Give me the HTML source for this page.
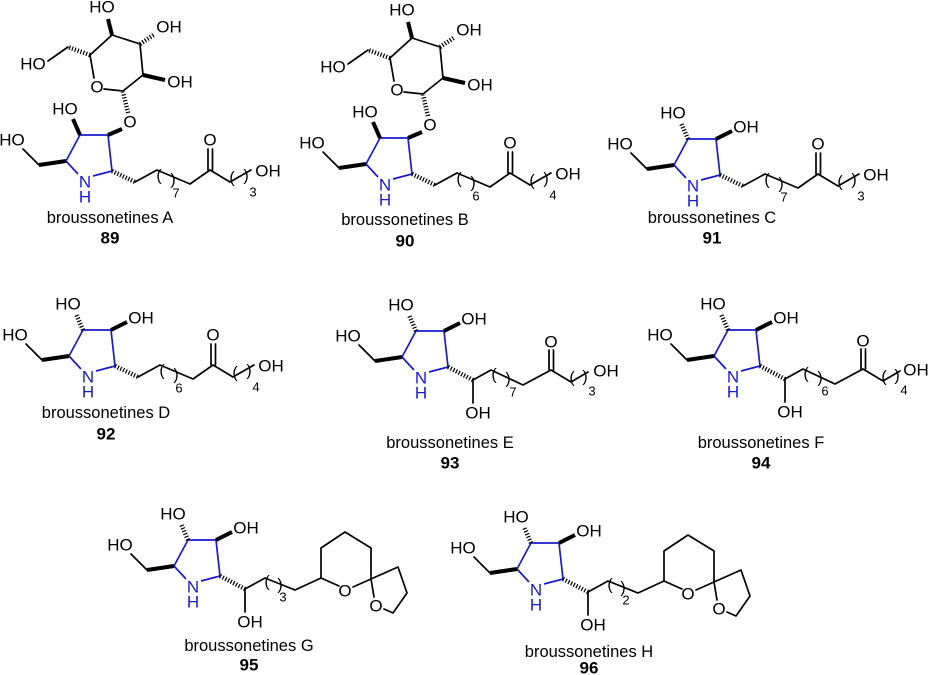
<!DOCTYPE html>
<html><head><meta charset="utf-8"><style>
html,body{margin:0;padding:0;background:#fff}
svg{display:block}
text{font-family:"Liberation Sans",Arial,sans-serif;dominant-baseline:central;text-anchor:middle}
.a{font-size:17px;fill:#000}
.b{font-size:17px;fill:#1a1acd}
.n{font-size:13px}
.p{font-size:16px}
.lbl{font-size:16.5px}
.num{font-size:17px;font-weight:bold}
.k{stroke:#000;stroke-width:1.7;fill:none;stroke-linecap:round;stroke-linejoin:round}
.bl{stroke:#1a1acd;stroke-width:1.7;fill:none;stroke-linejoin:round}
.w{stroke:#000;stroke-width:4;fill:none}
.h{stroke:#000;stroke-width:4.5;fill:none;stroke-dasharray:1.2 1.8}
</style></head><body>
<svg width="929" height="675" viewBox="0 0 929 675" xmlns="http://www.w3.org/2000/svg">

<!-- 89 -->
<g transform="translate(85,182)">
<path class="bl" d="M-7,-8 L-19,-21 L-5,-47 L23,-47 L27,-11 L8,-6"/>
<text class="b" x="0" y="0">N</text><text class="b" x="0" y="15">H</text>
<line class="w" x1="-19" y1="-21" x2="-46" y2="-17"/><path class="k" d="M-46,-17 L-62,-33"/><text class="a" x="-73" y="-42">HO</text>
<line class="w" x1="-5" y1="-47" x2="-12" y2="-63"/><text class="a" x="-20" y="-73">HO</text>
<line class="w" x1="23" y1="-47" x2="37" y2="-53"/><text class="a" x="45" y="-60">O</text>
<line class="h" x1="43" y1="-69" x2="38" y2="-90"/>
<path class="k" d="M19,-93 L38,-91 L58,-107 L55,-138 L27,-147 L5,-127 L9,-104"/><text class="a" x="12" y="-95">O</text>
<line class="w" x1="58" y1="-107" x2="80" y2="-102"/><text class="a" x="95" y="-100">OH</text>
<line class="h" x1="55" y1="-138" x2="70" y2="-148"/><text class="a" x="84" y="-155">OH</text>
<line class="w" x1="27" y1="-147" x2="23" y2="-163"/><text class="a" x="17" y="-175">HO</text>
<line class="h" x1="5" y1="-127" x2="-17" y2="-135"/><path class="k" d="M-17,-135 L-37,-121"/><text class="a" x="-52" y="-118">HO</text>
<line class="h" x1="27" y1="-11" x2="50" y2="0"/>
<path class="k" d="M50,0 L72,-12 L105,2 L125,-12 L145,0 L166,-12"/>
<path class="k" d="M123,-12 L123,-33 M127.5,-12 L127.5,-33"/><text class="a" x="125" y="-42">O</text>
<text class="p" x="74" y="-6">(</text><text class="p" x="88" y="-2">)</text><text class="n" x="91" y="11">7</text>
<text class="p" x="147" y="-4">(</text><text class="p" x="161" y="-6">)</text><text class="n" x="168" y="10">3</text>
<text class="a" x="183" y="-11">OH</text>
</g>
<text class="lbl" x="110" y="218">broussonetines A</text><text class="num" x="110" y="238">89</text>

<!-- 90 -->
<g transform="translate(385,185)">
<path class="bl" d="M-7,-8 L-19,-21 L-5,-47 L23,-47 L27,-11 L8,-6"/>
<text class="b" x="0" y="0">N</text><text class="b" x="0" y="15">H</text>
<line class="w" x1="-19" y1="-21" x2="-46" y2="-17"/><path class="k" d="M-46,-17 L-62,-33"/><text class="a" x="-73" y="-42">HO</text>
<line class="w" x1="-5" y1="-47" x2="-12" y2="-63"/><text class="a" x="-20" y="-73">HO</text>
<line class="w" x1="23" y1="-47" x2="37" y2="-53"/><text class="a" x="45" y="-60">O</text>
<line class="h" x1="43" y1="-69" x2="38" y2="-90"/>
<path class="k" d="M19,-93 L38,-91 L58,-107 L55,-138 L27,-147 L5,-127 L9,-104"/><text class="a" x="12" y="-95">O</text>
<line class="w" x1="58" y1="-107" x2="80" y2="-102"/><text class="a" x="95" y="-100">OH</text>
<line class="h" x1="55" y1="-138" x2="70" y2="-148"/><text class="a" x="84" y="-155">OH</text>
<line class="w" x1="27" y1="-147" x2="23" y2="-163"/><text class="a" x="17" y="-175">HO</text>
<line class="h" x1="5" y1="-127" x2="-17" y2="-135"/><path class="k" d="M-17,-135 L-37,-121"/><text class="a" x="-52" y="-118">HO</text>
<line class="h" x1="27" y1="-11" x2="50" y2="0"/>
<path class="k" d="M50,0 L72,-12 L105,2 L125,-12 L145,0 L166,-12"/>
<path class="k" d="M123,-12 L123,-33 M127.5,-12 L127.5,-33"/><text class="a" x="125" y="-42">O</text>
<text class="p" x="74" y="-6">(</text><text class="p" x="88" y="-2">)</text><text class="n" x="91" y="11">6</text>
<text class="p" x="147" y="-4">(</text><text class="p" x="161" y="-6">)</text><text class="n" x="168" y="10">4</text>
<text class="a" x="183" y="-11">OH</text>
</g>
<text class="lbl" x="405" y="220">broussonetines B</text><text class="num" x="405" y="241">90</text>

<!-- 91 -->
<g transform="translate(693,186)">
<path class="bl" d="M-7,-8 L-19,-21 L-5,-47 L23,-47 L27,-11 L8,-6"/>
<text class="b" x="0" y="0">N</text><text class="b" x="0" y="15">H</text>
<line class="w" x1="-19" y1="-21" x2="-46" y2="-17"/><path class="k" d="M-46,-17 L-62,-33"/><text class="a" x="-73" y="-42">HO</text>
<line class="h" x1="-5" y1="-47" x2="-12" y2="-63"/><text class="a" x="-20" y="-73">HO</text>
<line class="w" x1="23" y1="-47" x2="39" y2="-55"/><text class="a" x="53" y="-59">OH</text>
<line class="h" x1="27" y1="-11" x2="50" y2="0"/>
<path class="k" d="M50,0 L72,-12 L105,2 L125,-12 L145,0 L166,-12"/>
<path class="k" d="M123,-12 L123,-33 M127.5,-12 L127.5,-33"/><text class="a" x="125" y="-42">O</text>
<text class="p" x="74" y="-6">(</text><text class="p" x="88" y="-2">)</text><text class="n" x="91" y="11">7</text>
<text class="p" x="147" y="-4">(</text><text class="p" x="161" y="-6">)</text><text class="n" x="168" y="10">3</text>
<text class="a" x="183" y="-11">OH</text>
</g>
<text class="lbl" x="712" y="218">broussonetines C</text><text class="num" x="712" y="238">91</text>

<!-- 92 -->
<g transform="translate(88,377)">
<path class="bl" d="M-7,-8 L-19,-21 L-5,-47 L23,-47 L27,-11 L8,-6"/>
<text class="b" x="0" y="0">N</text><text class="b" x="0" y="15">H</text>
<line class="w" x1="-19" y1="-21" x2="-46" y2="-17"/><path class="k" d="M-46,-17 L-62,-33"/><text class="a" x="-73" y="-42">HO</text>
<line class="h" x1="-5" y1="-47" x2="-12" y2="-63"/><text class="a" x="-20" y="-73">HO</text>
<line class="w" x1="23" y1="-47" x2="39" y2="-55"/><text class="a" x="53" y="-59">OH</text>
<line class="h" x1="27" y1="-11" x2="50" y2="0"/>
<path class="k" d="M50,0 L72,-12 L105,2 L125,-12 L145,0 L166,-12"/>
<path class="k" d="M123,-12 L123,-33 M127.5,-12 L127.5,-33"/><text class="a" x="125" y="-42">O</text>
<text class="p" x="74" y="-6">(</text><text class="p" x="88" y="-2">)</text><text class="n" x="91" y="11">6</text>
<text class="p" x="147" y="-4">(</text><text class="p" x="161" y="-6">)</text><text class="n" x="168" y="10">4</text>
<text class="a" x="183" y="-11">OH</text>
</g>
<text class="lbl" x="106" y="413">broussonetines D</text><text class="num" x="106" y="434">92</text>

<!-- 93 -->
<g transform="translate(421,378)">
<path class="bl" d="M-7,-8 L-19,-21 L-5,-47 L23,-47 L27,-11 L8,-6"/>
<text class="b" x="0" y="0">N</text><text class="b" x="0" y="15">H</text>
<line class="w" x1="-19" y1="-21" x2="-46" y2="-17"/><path class="k" d="M-46,-17 L-62,-33"/><text class="a" x="-73" y="-42">HO</text>
<line class="h" x1="-5" y1="-47" x2="-12" y2="-63"/><text class="a" x="-20" y="-73">HO</text>
<line class="w" x1="23" y1="-47" x2="39" y2="-55"/><text class="a" x="53" y="-59">OH</text>
<line class="h" x1="27" y1="-11" x2="52" y2="2"/>
<path class="k" d="M52,2 L52,25"/><text class="a" x="57" y="35">OH</text>
<path class="k" d="M52,2 L70,-8 L102,7 L130,-8 L150,4 L167,-6"/>
<path class="k" d="M128,-8 L128,-28 M132.5,-8 L132.5,-28"/><text class="a" x="130" y="-36">O</text>
<text class="p" x="73" y="-3">(</text><text class="p" x="87" y="1">)</text><text class="n" x="92" y="14">7</text>
<text class="p" x="151" y="0">(</text><text class="p" x="164" y="-1">)</text><text class="n" x="171" y="13">3</text>
<text class="a" x="185" y="-7">OH</text>
</g>
<text class="lbl" x="450" y="443">broussonetines E</text><text class="num" x="450" y="463">93</text>

<!-- 94 -->
<g transform="translate(733,377)">
<path class="bl" d="M-7,-8 L-19,-21 L-5,-47 L23,-47 L27,-11 L8,-6"/>
<text class="b" x="0" y="0">N</text><text class="b" x="0" y="15">H</text>
<line class="w" x1="-19" y1="-21" x2="-46" y2="-17"/><path class="k" d="M-46,-17 L-62,-33"/><text class="a" x="-73" y="-42">HO</text>
<line class="h" x1="-5" y1="-47" x2="-12" y2="-63"/><text class="a" x="-20" y="-73">HO</text>
<line class="w" x1="23" y1="-47" x2="39" y2="-55"/><text class="a" x="53" y="-59">OH</text>
<line class="h" x1="27" y1="-11" x2="52" y2="2"/>
<path class="k" d="M52,2 L52,25"/><text class="a" x="57" y="35">OH</text>
<path class="k" d="M52,2 L70,-8 L102,7 L130,-8 L150,4 L167,-6"/>
<path class="k" d="M128,-8 L128,-28 M132.5,-8 L132.5,-28"/><text class="a" x="130" y="-36">O</text>
<text class="p" x="73" y="-3">(</text><text class="p" x="87" y="1">)</text><text class="n" x="92" y="14">6</text>
<text class="p" x="151" y="0">(</text><text class="p" x="164" y="-1">)</text><text class="n" x="171" y="13">4</text>
<text class="a" x="183" y="-7">OH</text>
</g>
<text class="lbl" x="761" y="443">broussonetines F</text><text class="num" x="761" y="463">94</text>

<!-- 95 -->
<g transform="translate(193,587)">
<path class="bl" d="M-7,-8 L-19,-21 L-5,-47 L23,-47 L27,-11 L8,-6"/>
<text class="b" x="0" y="0">N</text><text class="b" x="0" y="15">H</text>
<line class="w" x1="-19" y1="-21" x2="-46" y2="-17"/><path class="k" d="M-46,-17 L-62,-33"/><text class="a" x="-73" y="-42">HO</text>
<line class="h" x1="-5" y1="-47" x2="-12" y2="-63"/><text class="a" x="-20" y="-73">HO</text>
<line class="w" x1="23" y1="-47" x2="39" y2="-55"/><text class="a" x="53" y="-59">OH</text>
<line class="h" x1="27" y1="-11" x2="52" y2="2"/>
<path class="k" d="M52,2 L52,25"/><text class="a" x="57" y="35">OH</text>
<path class="k" d="M52,2 L72,-9 L102,3 L128,-9 L146,-1"/>
<text class="p" x="74" y="-5">(</text><text class="p" x="87" y="-2">)</text><text class="n" x="90" y="10">3</text>
<path class="k" d="M128,-9 L128,-39 L152,-55 L178,-39 L178,-8 L160,0"/><text class="a" x="152" y="4">O</text>
<path class="k" d="M178,-8 L205,-20 L214,6 L200,26 L191,22 M178,-8 L181,10"/><text class="a" x="183" y="19">O</text>
</g>
<text class="lbl" x="249" y="646">broussonetines G</text><text class="num" x="249" y="665">95</text>

<!-- 96 -->
<g transform="translate(536,590)">
<path class="bl" d="M-7,-8 L-19,-21 L-5,-47 L23,-47 L27,-11 L8,-6"/>
<text class="b" x="0" y="0">N</text><text class="b" x="0" y="15">H</text>
<line class="w" x1="-19" y1="-21" x2="-46" y2="-17"/><path class="k" d="M-46,-17 L-62,-33"/><text class="a" x="-73" y="-42">HO</text>
<line class="h" x1="-5" y1="-47" x2="-12" y2="-63"/><text class="a" x="-20" y="-73">HO</text>
<line class="w" x1="23" y1="-47" x2="39" y2="-55"/><text class="a" x="53" y="-59">OH</text>
<line class="h" x1="27" y1="-11" x2="52" y2="2"/>
<path class="k" d="M52,2 L52,25"/><text class="a" x="57" y="35">OH</text>
<path class="k" d="M52,2 L72,-9 L102,3 L128,-9 L146,-1"/>
<text class="p" x="74" y="-5">(</text><text class="p" x="87" y="-2">)</text><text class="n" x="90" y="10">2</text>
<path class="k" d="M128,-9 L128,-39 L152,-55 L178,-39 L178,-8 L160,0"/><text class="a" x="152" y="4">O</text>
<path class="k" d="M178,-8 L205,-20 L214,6 L200,26 L191,22 M178,-8 L181,10"/><text class="a" x="183" y="19">O</text>
</g>
<text class="lbl" x="589" y="652">broussonetines H</text><text class="num" x="589" y="668">96</text>

</svg>
</body></html>
